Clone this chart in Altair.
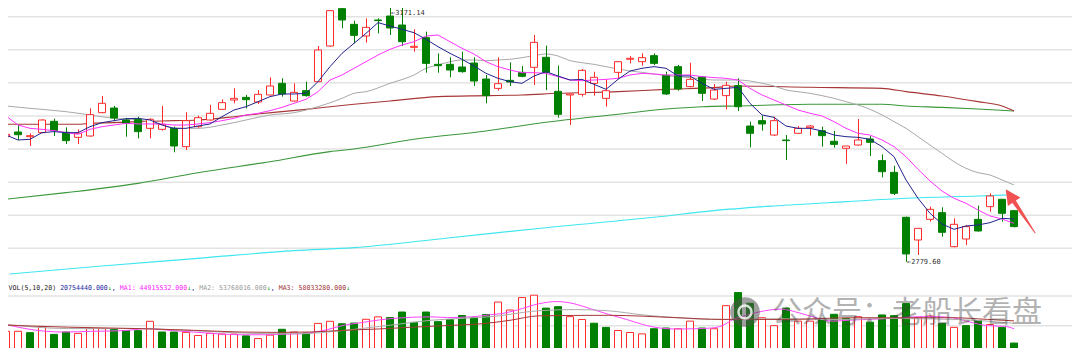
import altair as alt
import pandas as pd

# ---------------- data ----------------
opens = [2968.7, 2975.8, 2968.7, 2974.8, 2991.9, 2975.3, 2967.7, 2969.7, 3005.0, 3012.0,
         2993.9, 2994.9, 2981.3, 2979.8, 2981.3, 2953.6, 2983.8, 2993.9, 3010.0, 3024.1,
         3028.1, 3021.1, 3031.7, 3049.3, 3022.6, 3038.2, 3051.8, 3105.7, 3162.1, 3138.4,
         3120.8, 3145.0, 3151.0, 3137.4, 3103.7, 3118.3, 3078.0, 3078.0, 3074.0, 3080.0,
         3055.8, 3041.7, 3053.8, 3065.9, 3073.5, 3088.6, 3037.2, 3031.7, 3032.7, 3049.3,
         3026.6, 3065.9, 3085.6, 3082.0, 3091.1, 3061.4, 3074.5, 3044.3, 3058.9, 3025.6,
         3030.7, 3045.8, 2984.8, 2992.9, 2971.2, 2963.7, 2973.8, 2982.3, 2977.8, 2961.7,
         2951.1, 2956.1, 2965.2, 2932.5, 2914.8, 2846.9, 2812.6, 2843.8, 2853.9, 2802.5,
         2814.1, 2843.8, 2863.0, 2874.1, 2856.9]
closes = [2972.3, 2971.7, 2970.2, 2993.9, 2977.8, 2962.7, 2973.8, 3002.0, 3019.1, 2996.9,
          2988.9, 2976.3, 2994.9, 2987.4, 2954.6, 2992.9, 2997.4, 3004.0, 3020.1, 3026.6,
          3024.6, 3032.7, 3045.3, 3033.2, 3035.7, 3030.7, 3099.7, 3159.1, 3145.0, 3121.8,
          3133.9, 3144.0, 3132.9, 3112.2, 3105.2, 3079.5, 3076.0, 3069.4, 3066.9, 3052.8,
          3030.7, 3048.8, 3051.3, 3059.9, 3111.2, 3065.9, 3002.5, 3033.2, 3068.9, 3058.4,
          3038.2, 3082.0, 3087.1, 3088.1, 3079.5, 3033.2, 3040.7, 3055.3, 3034.2, 3039.2,
          3046.3, 3014.0, 2973.8, 2987.9, 2992.9, 2962.7, 2981.3, 2984.8, 2970.2, 2957.1,
          2954.6, 2963.7, 2960.2, 2915.8, 2883.1, 2791.5, 2830.2, 2858.9, 2824.2, 2836.3,
          2832.8, 2826.2, 2879.1, 2852.9, 2832.8]
highs = [2978.8, 2986.3, 2973.8, 2994.9, 2995.9, 2982.8, 2979.8, 3011.5, 3030.2, 3015.1,
         2996.4, 2998.9, 2996.4, 3015.1, 2983.8, 3005.5, 3000.5, 3016.6, 3025.1, 3041.7,
         3031.7, 3039.2, 3058.4, 3056.9, 3049.3, 3051.8, 3105.7, 3160.1, 3164.1, 3144.0,
         3147.5, 3147.5, 3171.14, 3166.0, 3130.9, 3127.4, 3094.6, 3088.6, 3097.1, 3088.6,
         3061.9, 3088.6, 3081.0, 3075.5, 3122.3, 3106.2, 3076.0, 3033.2, 3071.0, 3066.9,
         3055.3, 3083.0, 3090.6, 3094.6, 3094.6, 3066.9, 3077.0, 3080.5, 3060.4, 3048.3,
         3051.8, 3056.9, 2991.4, 3000.5, 2998.9, 2971.2, 2984.8, 2986.3, 2983.8, 2977.3,
         2954.6, 2995.4, 2969.7, 2942.0, 2924.9, 2847.9, 2830.2, 2863.0, 2862.0, 2845.4,
         2835.3, 2864.5, 2883.1, 2874.1, 2856.9]
lows = [2967.7, 2963.7, 2954.6, 2973.8, 2969.7, 2957.6, 2957.6, 2968.7, 3004.0, 2991.9,
        2968.7, 2966.2, 2966.2, 2977.8, 2945.1, 2948.6, 2982.3, 2992.9, 3009.0, 3019.1,
        3011.5, 3018.1, 3031.2, 3029.2, 3021.6, 3029.2, 3051.8, 3104.7, 3132.4, 3109.7,
        3110.7, 3124.8, 3122.3, 3105.7, 3097.1, 3065.4, 3065.4, 3058.4, 3065.4, 3045.3,
        3019.1, 3038.2, 3045.3, 3058.4, 3046.8, 3039.2, 2997.4, 2986.3, 3029.2, 3030.7,
        3014.0, 3056.9, 3079.5, 3076.0, 3077.0, 3031.7, 3038.2, 3043.3, 3022.6, 3024.1,
        3010.0, 3007.5, 2952.6, 2977.8, 2969.7, 2933.5, 2972.8, 2970.2, 2953.6, 2952.1,
        2927.4, 2955.1, 2939.5, 2907.3, 2880.6, 2779.6, 2790.0, 2840.3, 2817.6, 2801.5,
        2805.1, 2825.2, 2855.4, 2840.3, 2831.8]

# volume in millions of shares, and bar colour (1 = red / up, 0 = green / down)
volumes = [40.5, 40.5, 38.2, 48.6, 35.3, 39.3, 37.0, 45.1, 45.1, 43.4,
           41.6, 41.6, 57.3, 39.3, 39.3, 38.7, 33.5, 37.0, 35.9, 35.9,
           32.9, 28.3, 34.1, 43.9, 39.3, 37.6, 53.8, 57.3, 53.2, 54.4,
           60.7, 64.8, 63.6, 72.9, 55.5, 72.9, 56.7, 60.2, 67.1, 63.6,
           68.8, 89.7, 76.3, 97.2, 101.2, 79.5, 81.9, 65.1, 60.4, 54.1,
           47.1, 41.9, 38.5, 36.2, 44.8, 46.0, 44.8, 57.6, 46.0, 44.8,
           83.6, 105.6, 87.6, 63.3, 50.0, 79.5, 57.6, 57.6, 62.2, 69.1,
           62.2, 65.1, 55.8, 68.0, 66.8, 87.1, 63.3, 66.2, 53.5, 47.1,
           50.0, 58.7, 51.8, 47.1, 20.754]
vol_up = [1, 1, 0, 1, 0, 0, 1, 1, 1, 0,
          0, 0, 1, 0, 0, 1, 1, 1, 1, 1,
          0, 1, 1, 0, 1, 0, 1, 1, 0, 0,
          1, 1, 0, 0, 0, 0, 0, 0, 0, 0,
          0, 1, 1, 1, 1, 0, 0, 1, 1, 0,
          0, 1, 1, 1, 0, 0, 1, 1, 0, 1,
          1, 0, 0, 1, 1, 0, 1, 1, 0, 0,
          0, 1, 0, 0, 0, 0, 1, 1, 0, 1,
          0, 0, 1, 0, 0]

# price moving averages
ma5 = [2971.2, 2963.7, 2964.7, 2974.8, 2976.3, 2974.8, 2974.8, 2983.8, 2989.9, 2992.9,
       2995.9, 2996.4, 2993.9, 2986.3, 2981.3, 2981.3, 2984.8, 2987.9, 2998.9, 3009.0,
       3014.0, 3021.6, 3029.2, 3033.2, 3033.2, 3034.2, 3051.8, 3074.5, 3094.6, 3109.7,
       3124.8, 3141.0, 3135.9, 3130.9, 3125.8, 3115.8, 3104.7, 3094.6, 3085.6, 3075.5,
       3064.4, 3056.9, 3051.8, 3049.3, 3060.4, 3066.9, 3060.4, 3054.3, 3055.3, 3047.8,
       3040.2, 3055.3, 3067.9, 3072.0, 3074.5, 3072.0, 3060.4, 3060.4, 3049.3, 3040.2,
       3041.7, 3043.3, 3019.1, 3001.5, 2997.9, 2984.8, 2981.3, 2981.3, 2977.3, 2971.2,
       2968.7, 2967.7, 2964.7, 2953.6, 2938.5, 2903.3, 2875.6, 2852.9, 2836.8, 2828.7,
       2833.8, 2835.3, 2838.8, 2845.4, 2844.3]
ma10 = [3000.0, 2986.3, 2981.3, 2979.8, 2977.8, 2974.8, 2972.3, 2979.8, 2983.8, 2986.3,
        2988.9, 2987.9, 2987.9, 2987.9, 2986.3, 2986.3, 2987.9, 2989.9, 2992.9, 2996.4,
        3001.5, 3004.0, 3008.0, 3013.0, 3019.1, 3025.1, 3036.7, 3054.3, 3061.9, 3072.0,
        3082.0, 3092.1, 3100.7, 3107.2, 3112.2, 3120.8, 3122.3, 3112.2, 3102.2, 3093.6,
        3082.0, 3074.5, 3069.4, 3065.4, 3065.4, 3064.4, 3059.4, 3054.3, 3053.3, 3054.3,
        3055.3, 3056.9, 3061.9, 3064.4, 3063.4, 3061.9, 3061.9, 3061.9, 3059.4, 3057.9,
        3056.9, 3054.3, 3041.7, 3031.7, 3024.1, 3016.6, 3009.0, 3004.0, 3000.0, 2991.4,
        2981.3, 2973.8, 2971.2, 2963.7, 2953.6, 2938.5, 2919.4, 2901.8, 2886.6, 2875.6,
        2868.0, 2857.9, 2848.9, 2844.3, 2837.8]
ma20_idx = [1, 3, 6, 8, 10, 12, 14, 15, 17, 19, 21, 23, 25, 27, 29, 30, 31, 33, 35] + list(range(36, 86))
ma20_val = [3015.1, 3011.5, 3006.5, 3001.5, 2996.4, 2993.9, 2986.3, 2981.3, 2981.3, 2986.3,
            2993.9, 3001.5, 3005.0, 3014.0, 3026.6, 3034.2, 3036.7, 3049.3, 3061.9,
            3072.0, 3077.0, 3082.0, 3084.6, 3084.6, 3083.5, 3084.6, 3085.6, 3088.1, 3091.1,
            3093.6, 3090.6, 3083.5, 3080.5, 3078.0, 3074.5, 3071.0, 3067.9, 3065.9, 3063.4,
            3060.9, 3059.4, 3057.9, 3055.8, 3054.3, 3054.3, 3054.3, 3052.8, 3049.3, 3045.3,
            3039.2, 3036.7, 3034.2, 3030.7, 3026.6, 3021.6, 3016.6, 3010.0, 3001.5, 2991.4,
            2981.3, 2968.7, 2956.1, 2943.5, 2930.9, 2920.9, 2914.3, 2910.8, 2903.3, 2895.7]
ma60_idx = [1, 7, 8, 10, 12, 15, 17, 20, 22, 24, 26, 28, 30, 33, 37, 41, 44, 47, 52, 56,
            60, 62, 68, 74, 76, 79, 82, 84, 85]
ma60_val = [2987.4, 2987.4, 2988.9, 2989.9, 2991.4, 2992.9, 2993.9, 2998.9, 3003.0, 3006.5,
            3010.0, 3014.0, 3017.6, 3022.6, 3029.2, 3030.7, 3031.7, 3034.2, 3036.7, 3040.2,
            3042.8, 3045.3, 3043.3, 3041.7, 3036.7, 3030.2, 3021.6, 3015.1, 3007.5]
ma120_idx = [1, 6, 12, 17, 23, 28, 30, 35, 41, 46, 52, 56, 59, 62, 68, 74, 76, 79, 82, 85]
ma120_val = [2874.1, 2884.1, 2898.2, 2914.3, 2930.9, 2946.1, 2950.1, 2964.7, 2977.3, 2990.4,
             3002.5, 3010.5, 3014.0, 3015.1, 3017.6, 3017.6, 3015.1, 3013.0, 3010.5, 3007.5]
ma250_idx = [1.3, 9, 17, 25, 30, 38, 46, 55, 60, 65, 71, 76, 82, 84.4]
ma250_val = [2761.2, 2773.3, 2784.9, 2796.5, 2801.0, 2816.1, 2831.2, 2846.9, 2857.0, 2864.0,
             2870.5, 2875.6, 2879.1, 2880.6]

# volume moving averages
vma5_idx = [1, 3.1, 5.7, 8.2, 10.8, 12.8, 14.9, 16.6, 18.6, 20.6, 22.6, 24.3, 25.5, 27.8, 29.2,
            30.6, 32.1, 33.5, 36.4, 37.8, 39.8, 41.3, 42.4, 43.6, 45.4, 46.9, 48.4, 49.8, 51.2,
            52.7, 54.1, 55.5, 57.0, 58.4, 59.8, 60.7, 61.6, 62.7, 64.2, 65.6, 67.0, 68.5, 69.9,
            71.3, 72.8, 74.2, 75.6, 77.1, 78.5, 79.9, 81.4, 82.8, 84.2, 85]
vma5_val = [52.0, 43.4, 39.3, 40.5, 41.6, 45.1, 41.6, 39.3, 36.4, 34.7, 34.7, 35.8, 36.4, 43.4,
            50.9, 55.0, 59.6, 62.5, 64.8, 63.6, 64.8, 68.2, 70.6, 76.3, 86.8, 90.5, 86.5, 77.8,
            69.1, 60.5, 51.8, 46.0, 44.3, 44.8, 46.0, 50.0, 60.5, 67.4, 74.9, 77.8, 72.0, 63.3,
            57.6, 59.3, 60.5, 61.6, 63.3, 65.1, 65.1, 63.3, 55.8, 50.0, 48.9, 44.9]
vma10_idx = [1, 6.2, 12, 16.6, 20.6, 23.5, 25.5, 27.8, 30.6, 33.5, 36.4, 39.2, 42.1, 44.1, 45.5,
             48.4, 51.2, 54.1, 57.0, 59.8, 62.7, 65.6, 68.5, 71.3, 74.2, 77.1, 79.9, 82.8, 85]
vma10_val = [52.0, 45.1, 45.1, 41.6, 37.6, 36.4, 36.4, 39.3, 45.1, 52.0, 59.0, 62.5, 66.5, 72.3,
             75.2, 77.0, 75.0, 68.0, 63.3, 60.5, 60.5, 61.6, 60.5, 60.5, 62.2, 61.6, 60.5, 57.6, 53.8]
vma20_idx = [1, 6.2, 12, 16.6, 20.6, 23.5, 26.3, 29.2, 32.1, 34.9, 37.8, 40.7, 43.0, 45.4, 51.2,
             57.0, 60.7, 65.6, 68.5, 71.3, 77.1, 79.9, 82.8, 85]
vma20_val = [50.9, 47.4, 45.1, 42.2, 39.3, 38.7, 39.3, 42.2, 44.5, 47.4, 50.3, 53.2, 59.0, 66.5,
             67.4, 63.3, 60.5, 60.5, 61.6, 63.3, 63.3, 63.3, 60.5, 58.0]

price_grid = [2800, 2850, 2900, 2950, 3000, 3050, 3100, 3150]
vol_grid = [50, 100]

legend_parts = ["VOL(5,10,20) ", "20754440.000", "MA1: 44915532.000", "MA2: 53768016.000",
                "MA3: 58033280.000"]
high_idx, high_val = 33, 3171.14
low_idx, low_val = 76, 2779.60
watermark = "公众号：老船长看盘"
arrow_idx = [84.66, 86.75]
arrow_val = [2879.8, 2823.6]

# ---------------- styling ----------------
RED = "#ff2b2b"
GREEN = "#008000"
ARROW = "#f05252"
W, H = 1080, 356

xs = alt.Scale(domain=[0.5, 90.5], nice=False, zero=False)
py = alt.Scale(domain=[2758.2, 3175.2], range=[276, 0], nice=False, zero=False)
vy = alt.Scale(domain=[0, 100], range=[355.4, 295.9], nice=False, zero=False)


def X(f):
    return alt.X(f, type="quantitative", scale=xs, axis=None)


def PY(f):
    return alt.Y(f, type="quantitative", scale=py, axis=None)


def VY(f):
    return alt.Y(f, type="quantitative", scale=vy, axis=None)


n = len(opens)
idx = list(range(1, n + 1))
cd = pd.DataFrame({"i": idx, "o": opens, "h": highs, "l": lows, "c": closes})
cd["stroke"] = [RED if c >= o else GREEN for o, c in zip(opens, closes)]
cd["fill"] = ["#ffffff" if c >= o else GREEN for o, c in zip(opens, closes)]

vd = pd.DataFrame({"i": idx, "v": volumes})
vd["stroke"] = [RED if u else GREEN for u in vol_up]
vd["fill"] = ["#ffffff" if u else GREEN for u in vol_up]

half = 0.2917

grid_p = alt.Chart(pd.DataFrame({"g": price_grid})).mark_rule(color="#e3e3e3", strokeWidth=1.5).encode(
    x=alt.value(0), x2=alt.value(W), y=PY("g"))
grid_v = alt.Chart(pd.DataFrame({"g": vol_grid})).mark_rule(color="#e3e3e3", strokeWidth=1.5).encode(
    x=alt.value(0), x2=alt.value(W), y=VY("g"))


def line(ix, vals, color, scale_fn, interp="linear", width=1.0):
    d = pd.DataFrame({"i": ix, "v": vals})
    return alt.Chart(d).mark_line(color=color, strokeWidth=width, interpolate=interp).encode(
        x=X("i"), y=scale_fn("v"))


l250 = line(ma250_idx, ma250_val, "#3ee6ef", PY, "monotone", 1.1)
l120 = line(ma120_idx, ma120_val, "#3b973b", PY, "monotone", 1.1)
l60 = line(ma60_idx, ma60_val, "#a83636", PY, "monotone", 1.1)
l20 = line(ma20_idx, ma20_val, "#a9a9a9", PY, "monotone", 1.0)
l10 = line(idx, ma10, "#ff33ff", PY, "linear", 1.0)
l5 = line(idx, ma5, "#23238f", PY, "linear", 1.0)

wick = alt.Chart(cd).mark_rule(strokeWidth=1, xOffset=0.5).encode(
    x=X("i"), y=PY("l"), y2="h:Q", color=alt.Color("stroke:N", scale=None))
body = alt.Chart(cd).transform_calculate(
    x1=f"datum.i - {half}", x2=f"datum.i + {half}"
).mark_rect(strokeWidth=1).encode(
    x=X("x1"), x2="x2:Q", y=PY("o"), y2="c:Q",
    fill=alt.Fill("fill:N", scale=None), stroke=alt.Stroke("stroke:N", scale=None))

vbars = alt.Chart(vd).transform_calculate(
    x1=f"datum.i - {half}", x2=f"datum.i + {half}", z="0"
).mark_rect(strokeWidth=1).encode(
    x=X("x1"), x2="x2:Q", y=VY("z"), y2="v:Q",
    fill=alt.Fill("fill:N", scale=None), stroke=alt.Stroke("stroke:N", scale=None))

v5 = line(vma5_idx, vma5_val, "#ff44ff", VY, "monotone", 1.0)
v10 = line(vma10_idx, vma10_val, "#ababab", VY, "monotone", 1.0)
v20 = line(vma20_idx, vma20_val, "#a83636", VY, "monotone", 1.0)

# extreme price labels (the top one nudged down so it stays inside the page)
hi_df = pd.DataFrame({"i": [high_idx], "p": [high_val], "t": ["\u2190" + f"{high_val:.2f}"]})
lo_df = pd.DataFrame({"i": [low_idx], "p": [low_val], "t": ["\u2190" + f"{low_val:.2f}"]})
hi_text = alt.Chart(hi_df).mark_text(align="left", baseline="middle", dx=1, dy=10, font="DejaVu Sans Mono",
                                     fontSize=7, color="#333333").encode(
    x=X("i"), y=PY("p"), text="t:N")
lo_text = alt.Chart(lo_df).mark_text(align="left", baseline="middle", dx=1, font="DejaVu Sans Mono",
                                     fontSize=7, color="#333333").encode(
    x=X("i"), y=PY("p"), text="t:N")

# volume legend line (monospace, laid out by character count)
FS = 6.6
CW = 0.602 * FS
segs = [(legend_parts[0], "#222222"), (legend_parts[1], "#2323a0"), ("\u2193", "#119911"), (", ", "#2323a0"),
        (legend_parts[2], "#ff22ff"), ("\u2193", "#119911"), (", ", "#2323a0"),
        (legend_parts[3], "#999999"), ("\u2193", "#119911"), (", ", "#2323a0"),
        (legend_parts[4], "#a03030"), ("\u2193", "#119911")]
rows = []
k = 0
for t, col in segs:
    rows.append({"t": t, "px": 8.5 + k * CW, "col": col})
    k += len(t)
leg = alt.Chart(pd.DataFrame(rows)).mark_text(align="left", baseline="middle", font="DejaVu Sans Mono",
                                               fontSize=FS).encode(
    x=alt.X("px:Q", scale=None), y=alt.value(288), text="t:N", color=alt.Color("col:N", scale=None))

# watermark
wm_logo = alt.Chart(pd.DataFrame({"a": [0]})).mark_point(filled=True, shape="circle", size=880,
                                                         color="#505050", opacity=0.55).encode(
    x=alt.value(745), y=alt.value(312))
wm_ring = alt.Chart(pd.DataFrame({"a": [0]})).mark_point(filled=False, shape="circle", size=170,
                                                         color="#ffffff", strokeWidth=2.5,
                                                         opacity=0.8).encode(
    x=alt.value(745), y=alt.value(312))
wm_text = alt.Chart(pd.DataFrame({"t": [watermark]})).mark_text(
    align="left", baseline="middle", font="Noto Sans CJK SC", fontSize=30, color="#404040",
    opacity=0.4).encode(x=alt.value(772), y=alt.value(313), text="t:N")

# red arrow annotation
arr = pd.DataFrame({"i": arrow_idx, "p": arrow_val, "w": [5, 1]})
shaft = alt.Chart(arr).mark_trail(color=ARROW).encode(
    x=X("i"), y=PY("p"), size=alt.Size("w:Q", scale=None))
head = alt.Chart(arr.iloc[:1]).mark_point(shape="M0,-1L1,1L-1,1Z", filled=True, size=225, angle=326,
                                          color=ARROW, opacity=1).encode(x=X("i"), y=PY("p"))

chart = alt.layer(
    grid_p, grid_v,
    l250, l120, l60, l20,
    wick, body,
    l10, l5,
    hi_text, lo_text,
    vbars, v5, v10, v20,
    leg,
    wm_logo, wm_ring, wm_text,
    shaft, head,
).resolve_scale(y="independent").properties(
    width=W, height=H,
    autosize=alt.AutoSizeParams(type="none"),
    padding={"left": -8, "top": -8, "right": -8, "bottom": -8},
    background="white",
).configure_view(stroke=None)

chart.save("out.html", embed_options={"renderer": "svg", "actions": False})
